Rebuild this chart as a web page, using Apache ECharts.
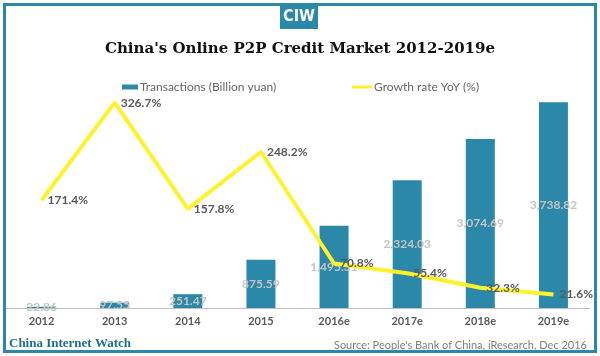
<!DOCTYPE html>
<html>
<head>
<meta charset="utf-8">
<script src="https://cdn.jsdelivr.net/npm/echarts@6/dist/echarts.min.js"></script>
<style>html,body{margin:0;padding:0;background:#fff;}#c{width:600px;height:356px;}</style>
</head>
<body>
<div id="c"></div>
<script>
const categories = ['2012','2013','2014','2015','2016e','2017e','2018e','2019e'];
const transactions = [22.86, 97.55, 251.47, 875.59, 1495.31, 2324.03, 3074.69, 3738.82];
const growth = [171.4, 326.7, 157.8, 248.2, 70.8, 55.4, 32.3, 21.6];
const seriesNames = ['Transactions (Billion yuan)', 'Growth rate YoY (%)'];

const TEAL = '#2b88a8';
const YELLOW = '#fff22d';
const SANS = 'Lato, "DejaVu Sans", sans-serif';
const SERIF = '"DejaVu Serif", Georgia, serif';

const chart = echarts.init(document.getElementById('c'));
chart.setOption({
  animation: false,
  backgroundColor: '#fff',
  title: {
    text: "China's Online P2P Credit Market 2012-2019e",
    left: 'center',
    top: 37,
    textStyle: { fontFamily: SERIF, fontWeight: 'bold', fontSize: 15, color: '#111' }
  },
  legend: [
    {
      data: [{ name: seriesNames[0], icon: 'rect' }],
      left: 117, top: 76,
      itemWidth: 16, itemHeight: 5, itemGap: 2,
      textStyle: { fontFamily: SANS, fontSize: 12, color: '#666', padding: [0,0,0,-3] }
    },
    {
      data: [{ name: seriesNames[1], icon: 'rect' }],
      left: 347, top: 76,
      itemWidth: 20, itemHeight: 3,
      textStyle: { fontFamily: SANS, fontSize: 12, color: '#666', padding: [0,0,0,-3] }
    }
  ],
  grid: { left: 5, right: 10, top: 88, bottom: 48, containLabel: false },
  xAxis: {
    type: 'category',
    data: categories,
    axisLine: { lineStyle: { color: '#bfbfbf', width: 1 } },
    axisTick: { show: false },
    axisLabel: { fontFamily: SANS, fontWeight: 'bold', fontSize: 11, color: '#595959', margin: 8 }
  },
  yAxis: [
    { type: 'value', min: 0, max: 4000, show: false, splitLine: { show: false } },
    { type: 'value', min: 0, max: 350, show: false, splitLine: { show: false } }
  ],
  series: [
    {
      name: seriesNames[0],
      type: 'bar',
      data: transactions,
      barWidth: 29,
      itemStyle: { color: TEAL },
      label: {
        show: true,
        position: 'inside',
        formatter: p => p.value.toLocaleString('en-US', { minimumFractionDigits: 2, maximumFractionDigits: 2 }),
        fontFamily: SANS, fontWeight: 'bold', fontSize: 12, color: '#c4c4c4'
      },
      z: 2
    },
    {
      name: seriesNames[1],
      type: 'line',
      yAxisIndex: 1,
      data: growth,
      symbol: 'circle',
      symbolSize: 0,
      lineStyle: { color: YELLOW, width: 4 },
      itemStyle: { color: YELLOW },
      label: {
        show: true,
        position: 'right',
        distance: 6,
        formatter: p => p.value.toFixed(1) + '%',
        fontFamily: SANS, fontWeight: 'bold', fontSize: 12, color: '#595959'
      },
      z: 3
    }
  ],
  graphic: [
    { type: 'rect', shape: { x: 4.5, y: 4.5, width: 591, height: 347 }, style: { fill: 'none', stroke: TEAL, lineWidth: 3 }, z: 10 },
    { type: 'rect', shape: { x: 280, y: 4, width: 38, height: 25 }, style: { fill: TEAL }, z: 11 },
    { type: 'text', x: 299, y: 17, style: { text: 'CIW', fill: '#fff', font: 'bold 16px "Liberation Sans Narrow", "DejaVu Sans Condensed", sans-serif', align: 'center', verticalAlign: 'middle' }, z: 12 },
    { type: 'text', x: 9, y: 344, style: { text: 'China Internet Watch', fill: '#1f6e8c', font: 'bold 13px "Liberation Serif", serif', verticalAlign: 'middle' }, z: 12 },
    { type: 'text', x: 587, y: 345, style: { text: "Source: People's Bank of China, iResearch, Dec 2016", fill: '#808080', font: '11px ' + SANS, align: 'right', verticalAlign: 'middle' }, z: 12 }
  ]
});
</script>
</body>
</html>
